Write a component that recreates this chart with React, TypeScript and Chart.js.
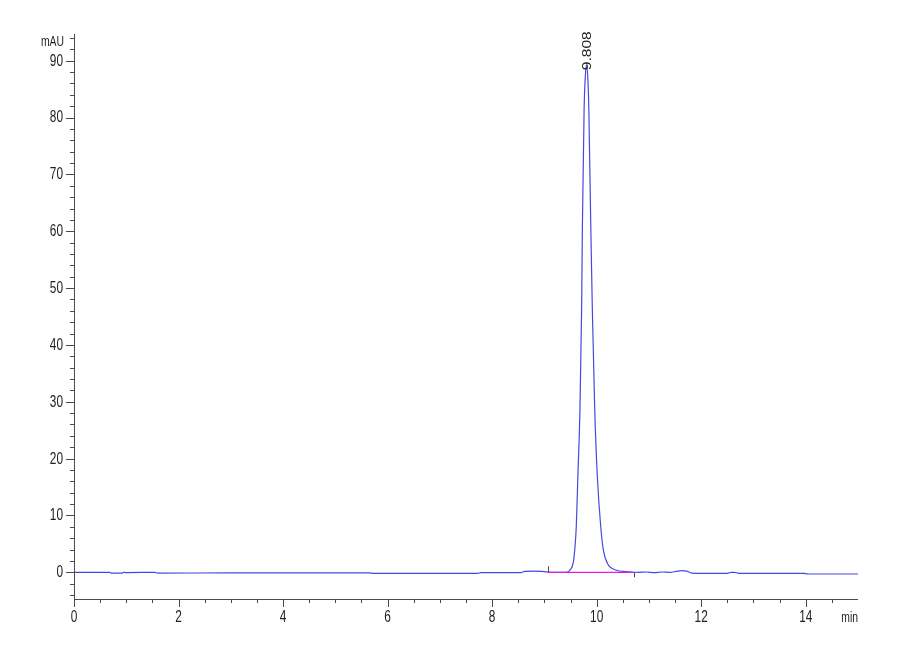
import { useEffect, useRef } from 'react';
import { Chart, registerables } from 'chart.js';

Chart.register(...registerables);

// retention time (min) and detector signal (mAU)
const TIME_MIN = [
  0, 0.68, 0.72, 0.92, 0.95, 0.99, 1.55, 1.6, 3.0, 4.5, 5.66, 5.72, 7.0, 7.73, 7.78,
  8.55, 8.62, 8.8, 8.95, 9.05, 9.25, 9.38, 9.44, 9.49, 9.55, 9.58, 9.61, 9.64, 9.68,
  9.712, 9.727, 9.76, 9.785, 9.806, 9.828, 9.85, 9.887, 9.917, 9.963, 10.013, 10.078,
  10.128, 10.204, 10.365, 10.5, 10.65, 10.8, 10.95, 11.1, 11.25, 11.4, 11.52, 11.62,
  11.72, 11.82, 12.0, 12.5, 12.58, 12.64, 12.72, 13.0, 13.5, 13.96, 14.04, 14.5, 15.0,
];
const SIGNAL_MAU = [
  0.0, 0.0, -0.15, -0.15, 0.0, -0.05, 0.0, -0.15, -0.1, -0.1, -0.1, -0.2, -0.2, -0.2, -0.05,
  -0.05, 0.15, 0.2, 0.15, 0.05, 0.0, 0.0, 0.05, 0.4, 1.6, 3.9, 8.0, 16.8, 28.6,
  46.3, 61.0, 81.6, 87.6, 89.2, 87.4, 81.6, 61.0, 46.3, 28.6, 16.8, 8.0,
  3.9, 1.6, 0.4, 0.15, 0.05, 0.0, 0.05, -0.05, 0.05, 0.0, 0.15, 0.3,
  0.2, -0.15, -0.18, -0.18, 0.0, 0.0, -0.18, -0.18, -0.18, -0.18, -0.3, -0.3, -0.3,
];

// integration baseline
const BASELINE_TIME = [9.06, 10.71];
const BASELINE_MAU = [0.0, 0.0];

// peak annotations
const PEAK_RT = [9.808];
const PEAK_TOP = [89.2];
const PEAK_LABELS = ['9.808'];

const X_LABELS = [0, 2, 4, 6, 8, 10, 12, 14];
const Y_LABELS = [0, 10, 20, 30, 40, 50, 60, 70, 80, 90];
const X_UNIT = 'min';
const Y_UNIT = 'mAU';

const AXIS_COLOR = '#4a4a4a';
const TEXT_COLOR = '#222';
const FONT = '"Liberation Sans", Arial, sans-serif';
const SQUEEZE = 0.74; // the labels are set in a condensed face

function squeezedText(ctx: CanvasRenderingContext2D, text: string, x: number, y: number, align: CanvasTextAlign) {
  ctx.save();
  ctx.translate(x, y);
  ctx.scale(SQUEEZE, 1);
  ctx.textAlign = align;
  ctx.fillText(text, 0, 0);
  ctx.restore();
}

const hplcDecor = {
  id: 'hplcDecor',
  afterDraw(chart: Chart) {
    const { ctx, chartArea: a } = chart;
    const x = chart.scales.x;
    const y = chart.scales.y;
    ctx.save();
    ctx.strokeStyle = AXIS_COLOR;
    ctx.lineWidth = 1;
    ctx.beginPath();
    // axis lines
    ctx.moveTo(a.left + 0.5, a.top);
    ctx.lineTo(a.left + 0.5, a.bottom + 0.5);
    ctx.lineTo(a.right, a.bottom + 0.5);
    // ticks
    x.ticks.forEach((t) => {
      if (t.value >= 15) return;
      const px = Math.round(x.getPixelForValue(t.value)) + 0.5;
      const len = X_LABELS.includes(t.value) ? 8 : 4;
      ctx.moveTo(px, a.bottom);
      ctx.lineTo(px, a.bottom + len);
    });
    y.ticks.forEach((t) => {
      const py = Math.round(y.getPixelForValue(t.value)) + 0.5;
      const len = Y_LABELS.includes(t.value) ? 8 : 4;
      ctx.moveTo(a.left - len, py);
      ctx.lineTo(a.left, py);
    });
    // baseline start / end marks
    const bx0 = Math.round(x.getPixelForValue(BASELINE_TIME[0])) + 0.5;
    const by0 = y.getPixelForValue(BASELINE_MAU[0]);
    ctx.moveTo(bx0, by0);
    ctx.lineTo(bx0, by0 - 6);
    const bx1 = Math.round(x.getPixelForValue(BASELINE_TIME[1])) + 0.5;
    const by1 = y.getPixelForValue(BASELINE_MAU[1]);
    ctx.moveTo(bx1, by1);
    ctx.lineTo(bx1, by1 + 5);
    ctx.stroke();

    // tick labels
    ctx.fillStyle = TEXT_COLOR;
    ctx.font = `16px ${FONT}`;
    ctx.textBaseline = 'middle';
    X_LABELS.forEach((v) => squeezedText(ctx, String(v), x.getPixelForValue(v), a.bottom + 19, 'center'));
    Y_LABELS.forEach((v) => squeezedText(ctx, String(v), a.left - 11, y.getPixelForValue(v) + 0.5, 'right'));

    // unit labels
    ctx.font = `14px ${FONT}`;
    squeezedText(ctx, Y_UNIT, a.left - 10, a.top + 8, 'right');
    squeezedText(ctx, X_UNIT, a.right, a.bottom + 19, 'right');

    // peak labels, rotated
    ctx.font = `13px ${FONT}`;
    ctx.textAlign = 'left';
    PEAK_RT.forEach((rt, i) => {
      ctx.save();
      ctx.translate(x.getPixelForValue(rt) + 0.5, y.getPixelForValue(PEAK_TOP[i]) + 5);
      ctx.rotate(-Math.PI / 2);
      ctx.scale(1.2, 1);
      ctx.fillText(PEAK_LABELS[i], 0, 0);
      ctx.restore();
    });
    ctx.restore();
  },
};

export default function App() {
  const ref = useRef<HTMLCanvasElement>(null);
  const chart = useRef<Chart | null>(null);

  useEffect(() => {
    if (!ref.current) return;
    chart.current?.destroy();
    chart.current = new Chart(ref.current, {
      type: 'line',
      data: {
        datasets: [
          {
            label: 'baseline',
            data: BASELINE_TIME.map((t, i) => ({ x: t, y: BASELINE_MAU[i] })),
            borderColor: '#e020d8',
            borderWidth: 1.2,
            pointRadius: 0,
            order: 0,
          },
          {
            label: 'signal',
            data: TIME_MIN.map((t, i) => ({ x: t, y: SIGNAL_MAU[i] })),
            borderColor: '#4848e0',
            borderWidth: 1.2,
            pointRadius: 0,
            cubicInterpolationMode: 'monotone',
            order: 1,
          },
        ],
      },
      options: {
        responsive: true,
        maintainAspectRatio: false,
        animation: false,
        layout: { padding: { top: 34, right: 42, left: 0, bottom: 0 } },
        plugins: { legend: { display: false }, tooltip: { enabled: false } },
        scales: {
          x: {
            type: 'linear',
            min: 0,
            max: 15,
            grid: { display: false, drawTicks: false },
            border: { display: false },
            ticks: { stepSize: 0.5, autoSkip: false, display: false },
            afterFit: (s) => { s.height = 61; },
          },
          y: {
            type: 'linear',
            min: -4.7,
            max: 94.7,
            grid: { display: false, drawTicks: false },
            border: { display: false },
            ticks: { stepSize: 2, includeBounds: false, autoSkip: false, display: false },
            afterFit: (s) => { s.width = 74; },
          },
        },
      },
      plugins: [hplcDecor],
    });
    return () => { chart.current?.destroy(); };
  }, []);

  return (
    <div style={{ position: 'absolute', left: 0, top: 0, width: 900, height: 660, background: '#fff' }}>
      <canvas ref={ref} />
    </div>
  );
}
